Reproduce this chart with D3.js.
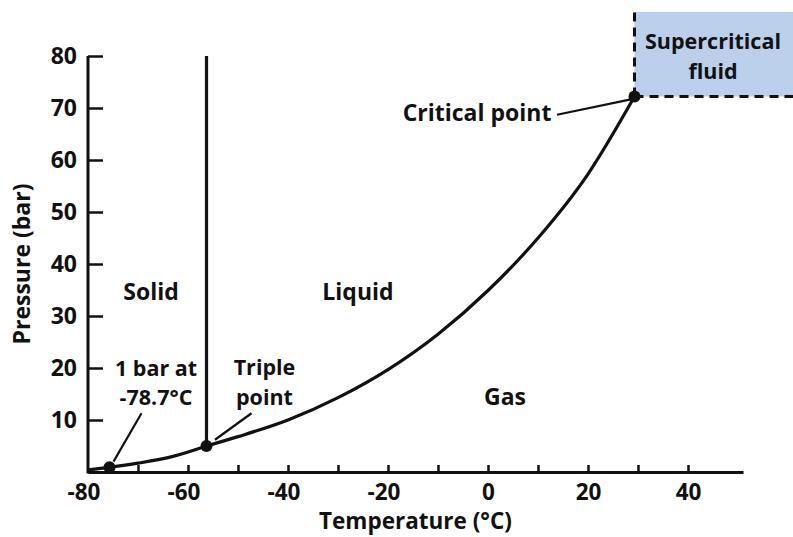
<!DOCTYPE html>
<html><head><meta charset="utf-8">
<script src="https://cdn.jsdelivr.net/npm/d3@7"></script>
<style>
body{margin:0;background:#fff}
svg{display:block}
text{font-family:"Open Sans",sans-serif;font-weight:700;fill:#111}
</style>
</head><body>
<svg id="chart" width="793" height="537"></svg>
<script>
// ---------- data ----------
const xTickValues = [-80,-70,-60,-50,-40,-30,-20,-10,0,10,20,30,40];
const xTickLabels = [-80,-60,-40,-20,0,20,40];
const yTickValues = [10,20,30,40,50,60,70,80];
// sublimation curve (solid-gas)
const sublimation = [[-80,0.4],[-75.7,0.9],[-70,1.7],[-63,3.0],[-56.3,5.0]];
// vaporization curve (liquid-gas)
const vaporization = [[-56.3,5.0],[-50,6.8],[-40,10.0],[-30,14.3],[-20,19.7],[-10,26.5],[0,34.9],[10,45.0],[20,57.3],[29.3,72.2]];
// melting line (solid-liquid)
const fusion = [[-56.3,5.0],[-56.3,80]];
const keyPoints = [[-75.7,0.9],[-56.3,5.0],[29.3,72.2]];
const criticalPoint = [29.3,72.2];
const supercriticalTop = 88.5;
// annotation texts, anchored at the first line's centre (data units)
const labels = [
  {lines:["Solid"], t:-67.4, p:34.6},
  {lines:["Liquid"], t:-26, p:34.6},
  {lines:["Gas"], t:3.4, p:14.4},
  {lines:["1 bar at","-78.7°C"], t:-66.4, p:20.0},
  {lines:["Triple","point"], t:-44.7, p:20.1},
  {lines:["Critical point"], t:-2.2, p:69.0},
  {lines:["Supercritical","fluid"], t:45.0, p:82.8}
];
const leaders = [
  [[-69.3,11.3],[-74.9,2.0]],
  [[-47.3,11.3],[-54.6,6.2]],
  [[13.8,68.7],[28.8,71.7]]
];

// ---------- layout ----------
const W = 793, H = 537;
const FS = 23;
const FS2 = 21.5;
const LH = 29.5;
const svg = d3.select("#chart");
const x = d3.scaleLinear().domain([-80,51]).range([88,743]);
const y = d3.scaleLinear().domain([0,80]).range([472,56]);
const ink = "#111";

// supercritical region
svg.append("rect")
  .attr("x", x(criticalPoint[0]))
  .attr("y", y(supercriticalTop))
  .attr("width", W - x(criticalPoint[0]))
  .attr("height", y(criticalPoint[1]) - y(supercriticalTop))
  .attr("fill", "#bccfea");
svg.append("line")
  .attr("x1", x(criticalPoint[0])).attr("x2", x(criticalPoint[0]))
  .attr("y1", y(criticalPoint[1])).attr("y2", y(supercriticalTop))
  .attr("stroke", ink).attr("stroke-width", 3).attr("stroke-dasharray", "9,6");
svg.append("line")
  .attr("x1", x(criticalPoint[0])).attr("x2", W)
  .attr("y1", y(criticalPoint[1])).attr("y2", y(criticalPoint[1]))
  .attr("stroke", ink).attr("stroke-width", 3).attr("stroke-dasharray", "9,6");

// axes
const xAxis = d3.axisBottom(x)
  .tickValues(xTickValues)
  .tickSizeInner(-7).tickSizeOuter(0).tickPadding(12)
  .tickFormat(d => xTickLabels.includes(d) ? String(d) : "");
const gx = svg.append("g").attr("transform", `translate(0,${y(0)})`).call(xAxis);
gx.select(".domain").attr("stroke", ink).attr("stroke-width", 3);
gx.selectAll(".tick line").attr("stroke", ink).attr("stroke-width", 2.5);
gx.selectAll(".tick text").attr("font-size", 22.5).attr("fill", ink)
  .attr("font-family", "Open Sans").attr("font-weight", 700)
  .attr("dx", d => d < 0 ? "-0.2em" : 0);
gx.selectAll(".tick").filter(d => d === -80).select("line").remove();

const yAxis = d3.axisLeft(y)
  .tickValues(yTickValues)
  .tickSizeInner(-15).tickSizeOuter(0).tickPadding(11);
const gy = svg.append("g").attr("transform", `translate(${x(-80)},0)`).call(yAxis);
gy.select(".domain").attr("stroke", ink).attr("stroke-width", 3)
  .attr("d", `M0,${y(80)}V${y(0)+1.5}`);
gy.selectAll(".tick line").attr("stroke", ink).attr("stroke-width", 2.5);
gy.selectAll(".tick text").attr("font-size", FS).attr("fill", ink)
  .attr("font-family", "Open Sans").attr("font-weight", 700);

// axis titles
svg.append("text")
  .attr("x", (x.range()[0]+x.range()[1])/2).attr("y", 529)
  .attr("text-anchor", "middle").attr("font-size", 22.5)
  .text("Temperature (°C)");
svg.append("text")
  .attr("transform", `translate(30,${(y(0)+y(80))/2}) rotate(-90)`)
  .attr("text-anchor", "middle").attr("font-size", FS)
  .text("Pressure (bar)");

// curves
const line = d3.line().x(d => x(d[0])).y(d => y(d[1])).curve(d3.curveMonotoneX);
[sublimation, vaporization].forEach(c => {
  svg.append("path").attr("d", line(c)).attr("fill", "none")
    .attr("stroke", ink).attr("stroke-width", 3.2);
});
svg.append("path").attr("d", d3.line().x(d => x(d[0])).y(d => y(d[1]))(fusion))
  .attr("fill", "none").attr("stroke", ink).attr("stroke-width", 3.2);

// leader lines
leaders.forEach(l => {
  svg.append("line")
    .attr("x1", x(l[0][0])).attr("y1", y(l[0][1]))
    .attr("x2", x(l[1][0])).attr("y2", y(l[1][1]))
    .attr("stroke", ink).attr("stroke-width", 2.2);
});

// key points
svg.selectAll("circle.kp").data(keyPoints).join("circle")
  .attr("class", "kp")
  .attr("cx", d => x(d[0])).attr("cy", d => y(d[1])).attr("r", 6)
  .attr("fill", ink);

// labels (multi-line via tspans)
const lbl = svg.selectAll("text.lbl").data(labels).join("text")
  .attr("class", "lbl")
  .attr("x", d => x(d.t)).attr("y", d => y(d.p))
  .attr("text-anchor", "middle")
  .attr("font-size", d => d.lines.length > 1 ? FS2 : FS);
lbl.each(function(d) {
  const t = d3.select(this);
  d.lines.forEach((s, i) => {
    t.append("tspan")
      .attr("x", x(d.t))
      .attr("y", y(d.p) + i * LH)
      .attr("dy", "0.36em")
      .text(s);
  });
});
</script>
</body></html>
